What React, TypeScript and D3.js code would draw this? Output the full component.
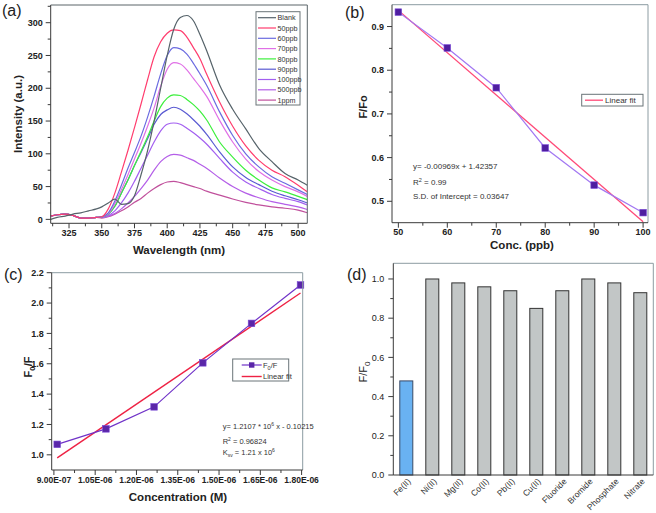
import React from 'react';
import * as d3 from 'd3';

const FONT = "'Liberation Sans', Arial, Helvetica, sans-serif";

// ---------- Panel (a) data ----------
const wavelengths = [311,316,322,328,334,340,346,350,355,360,365,370,375,380,385,390,395,400,405,410,415,420,425,430,440,450,460,470,480,490,500,507];
const seriesNames = ['Blank','50ppb','60ppb','70ppb','80ppb','90ppb','100ppb','500ppb','1ppm'];
const seriesColors = ['#56636a','#ff3d6e','#6b6be0','#e070e6','#3cef3c','#5a5ad2','#a35ff0','#b45ee8','#c0509c'];
const blankI = [0,3,5,8,10,13,16,19,25,31,23,24,36,68,105,150,200,250,290,308,311,303,282,258,205,168,138,108,88,70,60,52];
const ppb50 = [5,7,8,6,2,2,3,4,16,40,72,105,140,176,213,248,271,284,289,288,278,262,245,222,179,142,112,90,75,65,52,42];
const ppb60 = [5,7,8,6,2,2,3,4,10,28,52,78,102,127,156,188,222,250,262,260,252,238,222,205,164,128,100,80,65,55,45,38];
const ppb70 = [5,7,8,6,2,2,3,4,9,24,45,68,92,116,142,170,203,229,239,237,228,215,202,188,151,118,92,73,60,50,42,35];
const ppb80 = [5,7,8,6,2,2,3,4,8,20,40,60,82,104,126,150,172,185,190,189,183,175,165,152,118,95,75,60,48,42,35,30];
const ppb90 = [5,7,8,6,2,2,3,4,8,20,40,60,82,102,123,145,160,167,171,168,161,152,142,130,103,80,64,53,43,36,30,25];
const ppb100 = [5,7,8,6,2,2,3,3,6,13,25,40,58,78,98,118,135,145,147,145,139,132,124,115,93,72,57,47,38,32,27,22];
const ppb500 = [5,7,8,6,2,2,3,3,5,9,16,25,35,47,60,75,88,96,99,98,94,90,84,78,63,50,40,33,27,23,19,15];
const ppm1 = [5,7,8,6,2,2,3,2,4,8,13,19,26,32,40,47,53,57,58,56,53,50,47,43,37,31,26,22,19,17,14,10];
const seriesA = [blankI, ppb50, ppb60, ppb70, ppb80, ppb90, ppb100, ppb500, ppm1];
const aTicksX = [325,350,375,400,425,450,475,500];
const aMinorX = [312.5,337.5,362.5,387.5,412.5,437.5,462.5,487.5];
const aTicksY = [0,50,100,150,200,250,300];
const aMinorY = [25,75,125,175,225,275,325];

// ---------- Panel (b) data ----------
const concPpb = [50,60,70,80,90,100];
const fOverFo = [0.933,0.851,0.760,0.622,0.537,0.474];
const fitBx = [50,100];
const fitBy = [0.937,0.453];
const bTicksX = [50,60,70,80,90,100];
const bMinorX = [55,65,75,85,95];
const bTicksY = [0.5,0.6,0.7,0.8,0.9];
const bMinorY = [0.55,0.65,0.75,0.85];

// ---------- Panel (c) data ----------
const concM = [9.12e-7,1.089e-6,1.264e-6,1.441e-6,1.618e-6,1.796e-6];
const f0OverF = [1.069,1.171,1.316,1.606,1.866,2.119];
const fitCx = [9.12e-7,1.796e-6];
const fitCy = [0.98,2.066];
const cTicksX = [9.0e-7,1.05e-6,1.2e-6,1.35e-6,1.5e-6,1.65e-6,1.8e-6];
const cTickLabelsX = ['9.00E-07','1.05E-06','1.20E-06','1.35E-06','1.50E-06','1.65E-06','1.80E-06'];
const cMinorX = [9.75e-7,1.125e-6,1.275e-6,1.425e-6,1.575e-6,1.725e-6];
const cTicksY = [1.0,1.2,1.4,1.6,1.8,2.0,2.2];
const cMinorY = [1.1,1.3,1.5,1.7,1.9,2.1];

// ---------- Panel (d) data ----------
const ions = ['Fe(II)','Ni(II)','Mg(II)','Co(II)','Pb(II)','Cu(II)','Fluoride','Bromide','Phosphate','Nitrate'];
const selectivity = [0.48,1.0,0.98,0.96,0.94,0.85,0.94,1.0,0.98,0.93];
const dTicksY = [0,0.2,0.4,0.6,0.8,1.0];
const dMinorY = [0.1,0.3,0.5,0.7,0.9];

const AX = '#3a3a3a';
const FRAME_LIGHT = '#8c9ca2';

function YTicks({ scale, x, ticks, minor, fmt, size = 9, bold = true, gap = 3 }: any) {
  return (
    <g>
      {ticks.map((t: number, i: number) => (
        <g key={'y' + i}>
          <line x1={x - 5} x2={x} y1={scale(t)} y2={scale(t)} stroke={AX} />
          <text x={x - 5 - gap} y={scale(t) + size * 0.35} textAnchor="end" fontSize={size}
            fontWeight={bold ? 'bold' : 'normal'} fill="#222">{fmt(t)}</text>
        </g>
      ))}
      {minor.map((t: number, i: number) => (
        <line key={'m' + i} x1={x - 3} x2={x} y1={scale(t)} y2={scale(t)} stroke={AX} />
      ))}
    </g>
  );
}

function XTicks({ scale, y, ticks, minor, labels, size = 9, bold = true, dy = 13 }: any) {
  return (
    <g>
      {ticks.map((t: number, i: number) => (
        <g key={'x' + i}>
          <line x1={scale(t)} x2={scale(t)} y1={y} y2={y + 5} stroke={AX} />
          <text x={scale(t)} y={y + dy} textAnchor="middle" fontSize={size}
            fontWeight={bold ? 'bold' : 'normal'} fill="#222">{labels[i]}</text>
        </g>
      ))}
      {minor.map((t: number, i: number) => (
        <line key={'m' + i} x1={scale(t)} x2={scale(t)} y1={y} y2={y + 3} stroke={AX} />
      ))}
    </g>
  );
}

function Frame({ x0, x1, y0, y1, full }: any) {
  return (
    <g fill="none">
      <line x1={x0} x2={x1} y1={y0} y2={y0} stroke={full ? '#5a6468' : FRAME_LIGHT} />
      <line x1={x1} x2={x1} y1={y0} y2={y1} stroke={full ? '#5a6468' : FRAME_LIGHT} />
      <line x1={x0} x2={x0} y1={y0} y2={y1} stroke={AX} />
      <line x1={x0} x2={x1} y1={y1} y2={y1} stroke={AX} />
    </g>
  );
}

function PanelA() {
  const x = d3.scaleLinear().domain([311, 507]).range([50.7, 307.3]);
  const y = d3.scaleLinear().domain([-6, 327]).range([223.3, 5]);
  const line = d3.line<number>().x((_, i) => x(wavelengths[i])).y(d => y(d)).curve(d3.curveMonotoneX);
  const order = seriesA.map((_, i) => i).reverse();
  return (
    <g>
      <defs>
        <clipPath id="clipA"><rect x={50.7} y={5} width={256.6} height={218.3} /></clipPath>
      </defs>
      <g clipPath="url(#clipA)">
        {order.map(i => (
          <path key={i} d={line(seriesA[i]) || ''} fill="none" stroke={seriesColors[i]} strokeWidth={1.2} />
        ))}
      </g>
      <Frame x0={50.7} x1={307.3} y0={5} y1={223.3} full />
      <YTicks scale={y} x={50.7} ticks={aTicksY} minor={aMinorY} fmt={(t: number) => String(t)} />
      <XTicks scale={x} y={223.3} ticks={aTicksX} minor={aMinorX} labels={aTicksX.map(String)} dy={13} />
      <rect x={256} y={11.7} width={44} height={93.3} fill="#fff" stroke="#6a7478" />
      {seriesNames.map((n, i) => (
        <g key={n}>
          <line x1={258} x2={276} y1={17.7 + i * 10.3} y2={17.7 + i * 10.3} stroke={seriesColors[i]} strokeWidth={1.2} />
          <text x={277.5} y={17.7 + i * 10.3 + 2.6} fontSize={7.2} fill="#333">{n}</text>
        </g>
      ))}
      <text transform="translate(22,114) rotate(-90)" textAnchor="middle" fontSize={11.5} fontWeight="bold" fill="#222">Intensity (a.u.)</text>
      <text x={179} y={254} textAnchor="middle" fontSize={11.5} fontWeight="bold" fill="#222">Wavelength (nm)</text>
      <text x={2} y={16} fontSize={16} fill="#222">(a)</text>
    </g>
  );
}

function PanelB() {
  const x = d3.scaleLinear().domain([48.7, 101]).range([392, 648]);
  const y = d3.scaleLinear().domain([0.451, 0.95]).range([222.7, 4.7]);
  const line = d3.line<number>().x((_, i) => x(concPpb[i])).y(d => y(d));
  const fit = d3.line<number>().x((_, i) => x(fitBx[i])).y(d => y(d));
  return (
    <g>
      <path d={fit(fitBy) || ''} fill="none" stroke="#ff4a78" strokeWidth={1.3} />
      <path d={line(fOverFo) || ''} fill="none" stroke="#a277f2" strokeWidth={1.2} />
      {fOverFo.map((v, i) => (
        <rect key={i} x={x(concPpb[i]) - 3.3} y={y(v) - 3.3} width={6.6} height={6.6} fill="#4f1ea0" stroke="#7a4ad8" strokeWidth={0.6} />
      ))}
      <Frame x0={392} x1={648} y0={4.7} y1={222.7} />
      <YTicks scale={y} x={392} ticks={bTicksY} minor={bMinorY} fmt={(t: number) => t.toFixed(1)} />
      <XTicks scale={x} y={222.7} ticks={bTicksX} minor={bMinorX} labels={bTicksX.map(String)} dy={12.5} />
      <rect x={581.7} y={94.3} width={61.3} height={11.7} fill="#fff" stroke="#6a7478" />
      <line x1={585} x2={603} y1={100.2} y2={100.2} stroke="#ff4a78" strokeWidth={1.3} />
      <text x={605} y={103} fontSize={8} fill="#333">Linear fit</text>
      <g fontSize={8} fill="#333">
        <text x={413} y={168.8}>y= -0.00969x + 1.42357</text>
        <text x={413} y={184.5}>R<tspan dy={-3} fontSize={5.5}>2</tspan><tspan dy={3}> = 0.99</tspan></text>
        <text x={413} y={199}>S.D. of Intercept = 0.03647</text>
      </g>
      <text transform="translate(367,107) rotate(-90)" textAnchor="middle" fontSize={11} fontWeight="bold" fill="#222">F/Fo</text>
      <text x={522} y={249} textAnchor="middle" fontSize={11.5} fontWeight="bold" fill="#222">Conc. (ppb)</text>
      <text x={345} y={18} fontSize={16} fill="#222">(b)</text>
    </g>
  );
}

function PanelC() {
  const x = d3.scaleLinear().domain([8.92e-7, 1.804e-6]).range([51.7, 302.7]);
  const y = d3.scaleLinear().domain([0.9, 2.2]).range([470, 272.7]);
  const line = d3.line<number>().x((_, i) => x(concM[i])).y(d => y(d));
  const fit = d3.line<number>().x((_, i) => x(fitCx[i])).y(d => y(d));
  return (
    <g>
      <path d={fit(fitCy) || ''} fill="none" stroke="#ee2244" strokeWidth={1.4} />
      <path d={line(f0OverF) || ''} fill="none" stroke="#7033c8" strokeWidth={1.2} />
      {f0OverF.map((v, i) => (
        <rect key={i} x={x(concM[i]) - 3.3} y={y(v) - 3.3} width={6.6} height={6.6} fill="#5a26a8" stroke="#7a4ad8" strokeWidth={0.6} />
      ))}
      <Frame x0={51.7} x1={302.7} y0={272.7} y1={470} />
      <YTicks scale={y} x={51.7} ticks={cTicksY} minor={cMinorY} fmt={(t: number) => t.toFixed(1)} />
      <XTicks scale={x} y={470} ticks={cTicksX} minor={cMinorX} labels={cTickLabelsX} size={8.5} dy={12.5} />
      <rect x={232.7} y={359} width={56} height={22} fill="#fff" stroke="#6a7478" />
      <line x1={241.7} x2={261.7} y1={365} y2={365} stroke="#7033c8" strokeWidth={1.2} />
      <rect x={249} y={362.3} width={5.4} height={5.4} fill="#5a26a8" />
      <text x={263} y={367.5} fontSize={7.5} fill="#333">F<tspan dy={2} fontSize={5.5}>0</tspan><tspan dy={-2}>/F</tspan></text>
      <line x1={241.7} x2={261.7} y1={376.5} y2={376.5} stroke="#ee2244" strokeWidth={1.4} />
      <text x={263} y={379} fontSize={7.5} fill="#333">Linear fit</text>
      <g fontSize={7.5} fill="#333">
        <text x={222.7} y={429.3}>y= 1.2107 * 10<tspan dy={-3} fontSize={5}>6</tspan><tspan dy={3}> x - 0.10215</tspan></text>
        <text x={222.7} y={443.5}>R<tspan dy={-3} fontSize={5}>2</tspan><tspan dy={3}> = 0.96824</tspan></text>
        <text x={222.7} y={454.5}>K<tspan dy={2} fontSize={5}>sv</tspan><tspan dy={-2}> = 1.21 x 10</tspan><tspan dy={-3} fontSize={5}>6</tspan></text>
      </g>
      <text transform="translate(32,367) rotate(-90)" textAnchor="middle" fontSize={11} fontWeight="bold" fill="#222">F<tspan dy={3} fontSize={7.5}>0</tspan><tspan dy={-3} dx={0.5}>/F</tspan></text>
      <text x={178} y={501} textAnchor="middle" fontSize={11.5} fontWeight="bold" fill="#222">Concentration (M)</text>
      <text x={4} y={280} fontSize={16} fill="#222">(c)</text>
    </g>
  );
}

function PanelD() {
  const x = d3.scaleBand<string>().domain(ions).range([393.3, 653.3]).paddingInner(0.5).paddingOuter(0.25);
  const y = d3.scaleLinear().domain([0, 1.08]).range([475, 263.3]);
  return (
    <g>
      {selectivity.map((v, i) => (
        <rect key={ions[i]} x={x(ions[i])} y={y(v)} width={x.bandwidth()} height={y(0) - y(v)}
          fill={i === 0 ? '#69b2f2' : '#c2c6c6'} stroke={i === 0 ? '#3a4a66' : '#333'} strokeWidth={1} />
      ))}
      <Frame x0={393.3} x1={653.3} y0={263.3} y1={475} />
      <YTicks scale={y} x={393.3} ticks={dTicksY} minor={dMinorY} fmt={(t: number) => t.toFixed(1)} bold={false} size={9} gap={4} />
      {ions.map(n => (
        <text key={n} transform={`translate(${(x(n) || 0) + x.bandwidth() / 2 + 5},${482}) rotate(-45)`}
          textAnchor="end" fontSize={8.5} fill="#333">{n}</text>
      ))}
      <text transform="translate(367,372) rotate(-90)" textAnchor="middle" fontSize={11} fill="#222">F/F<tspan dy={3} fontSize={8}>0</tspan></text>
      <text x={347} y={280} fontSize={16} fill="#222">(d)</text>
    </g>
  );
}

export default function App() {
  return (
    <svg width={656} height={513} viewBox="0 0 656 513"
      style={{ position: 'absolute', left: 0, top: 0, background: '#fff', fontFamily: FONT }}>
      <rect width={656} height={513} fill="#fff" />
      <PanelA />
      <PanelB />
      <PanelC />
      <PanelD />
    </svg>
  );
}
